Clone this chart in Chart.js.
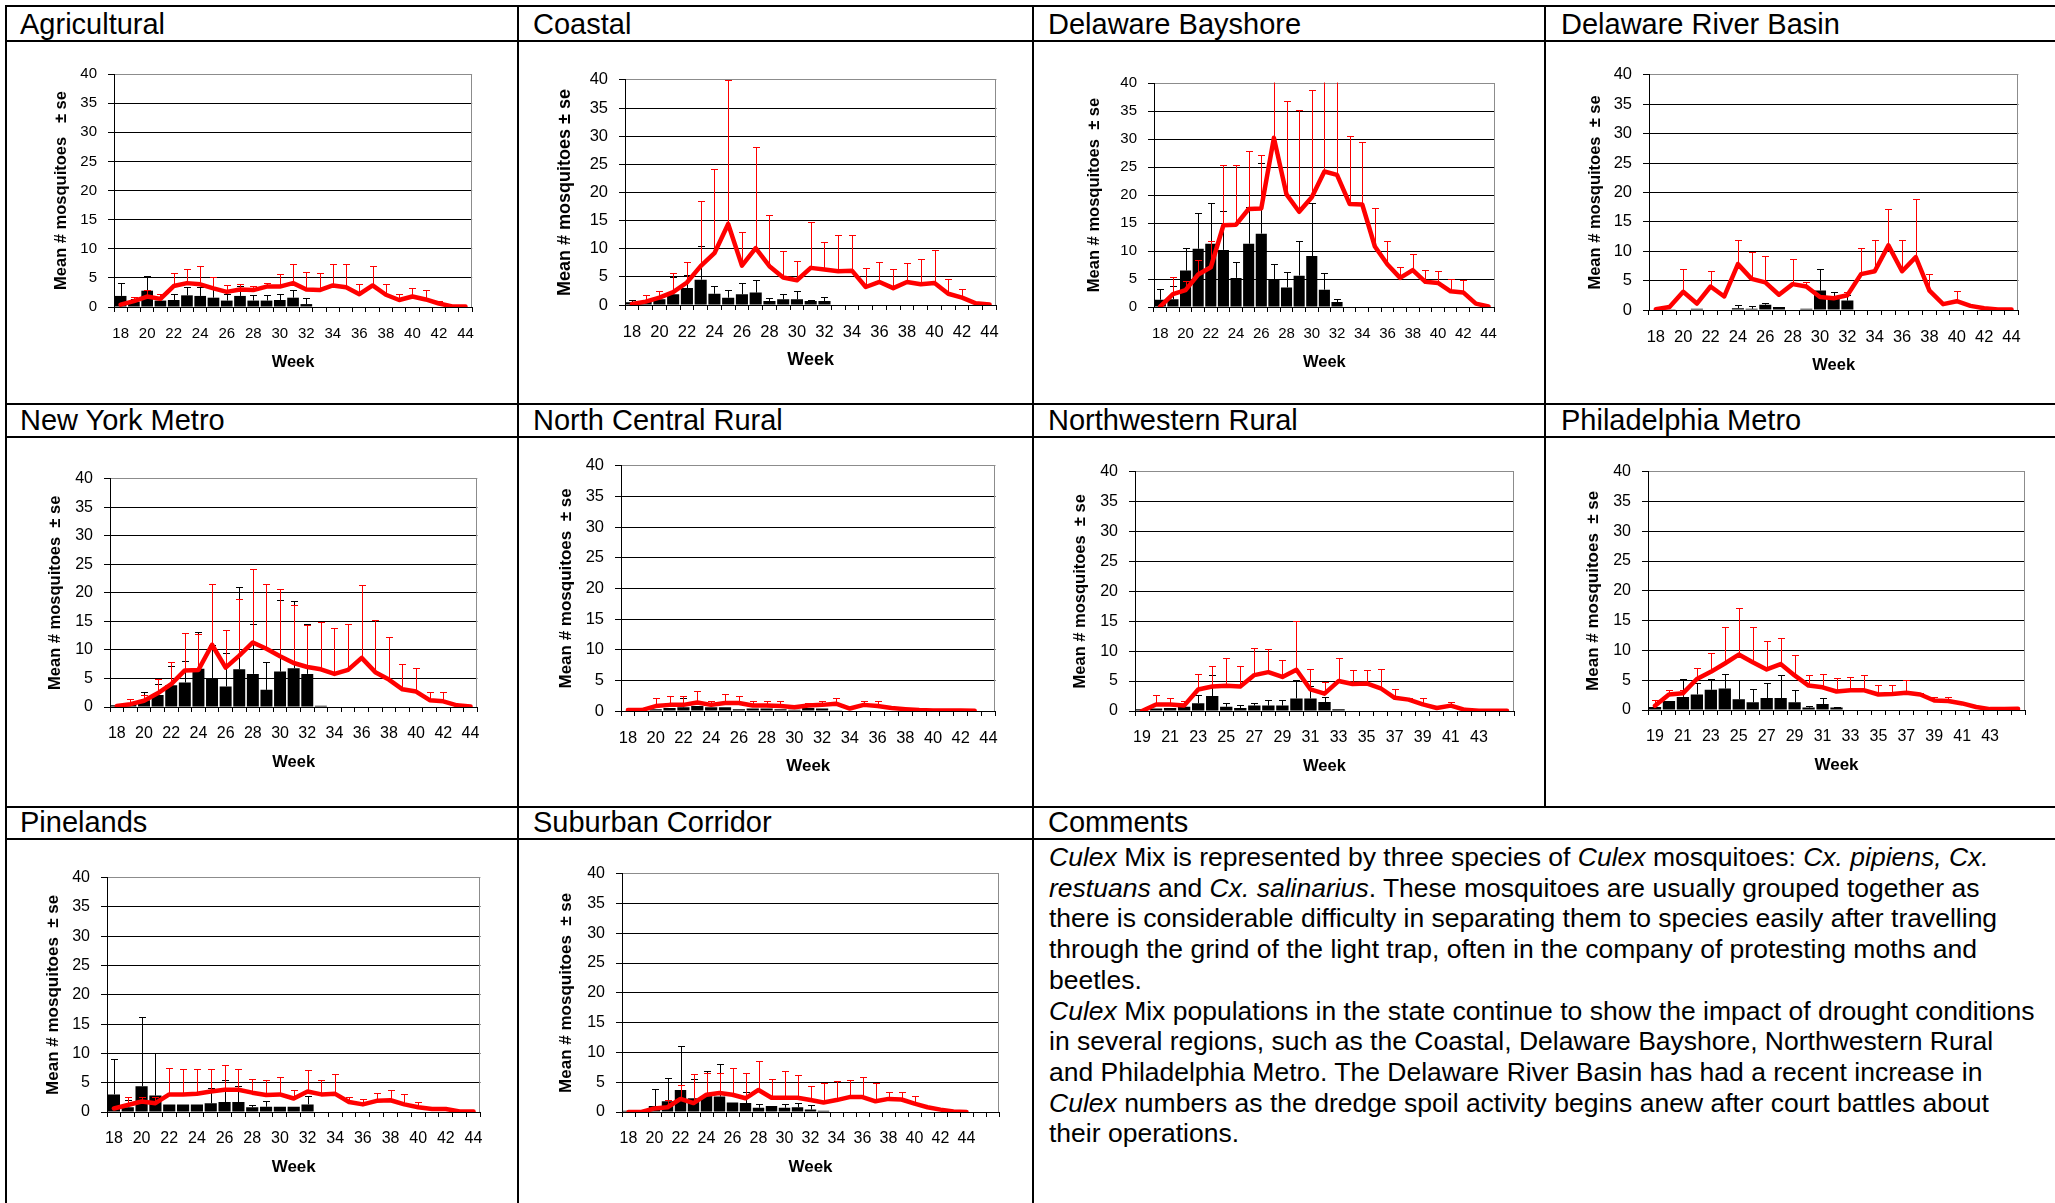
<!DOCTYPE html>
<html><head><meta charset="utf-8">
<script src="https://cdn.jsdelivr.net/npm/chart.js@4.4.1/dist/chart.umd.min.js"></script>
<style>
html,body{margin:0;padding:0;background:#fff;}
#page{position:relative;width:2055px;height:1203px;overflow:hidden;background:#fff;font-family:'Liberation Sans',Arial,sans-serif;color:#000;}
.h{position:absolute;height:2px;background:#000;}
.v{position:absolute;width:2px;background:#000;}
.cap{position:absolute;font-size:29px;line-height:29px;white-space:nowrap;}
.txt{position:absolute;left:1049px;top:842px;font-size:26.5px;line-height:30.7px;white-space:nowrap;}
canvas{position:absolute;}
</style></head>
<body><div id="page">
<div class="h" style="left:5px;top:5px;width:2050px"></div>
<div class="h" style="left:5px;top:40px;width:2050px"></div>
<div class="h" style="left:5px;top:403px;width:2050px"></div>
<div class="h" style="left:5px;top:436px;width:2050px"></div>
<div class="h" style="left:5px;top:806px;width:2050px"></div>
<div class="h" style="left:5px;top:838px;width:2050px"></div>
<div class="v" style="left:5px;top:5px;height:1198px"></div>
<div class="v" style="left:517px;top:5px;height:1198px"></div>
<div class="v" style="left:1032px;top:5px;height:1198px"></div>
<div class="v" style="left:1544px;top:5px;height:802px"></div>

<div class="cap" style="left:20px;top:10px">Agricultural</div>
<div class="cap" style="left:533px;top:10px">Coastal</div>
<div class="cap" style="left:1048px;top:10px">Delaware Bayshore</div>
<div class="cap" style="left:1561px;top:10px">Delaware River Basin</div>
<div class="cap" style="left:20px;top:406px">New York Metro</div>
<div class="cap" style="left:533px;top:406px">North Central Rural</div>
<div class="cap" style="left:1048px;top:406px">Northwestern Rural</div>
<div class="cap" style="left:1561px;top:406px">Philadelphia Metro</div>
<div class="cap" style="left:20px;top:808px">Pinelands</div>
<div class="cap" style="left:533px;top:808px">Suburban Corridor</div>
<div class="cap" style="left:1048px;top:808px">Comments</div>

<div class="txt">
<i>Culex</i> Mix is represented by three species of <i>Culex</i> mosquitoes: <i>Cx. pipiens, Cx.</i><br>
<i>restuans</i> and <i>Cx. salinarius</i>. These mosquitoes are usually grouped together as<br>
there is considerable difficulty in separating them to species easily after travelling<br>
through the grind of the light trap, often in the company of protesting moths and<br>
beetles.<br>
<i>Culex</i> Mix populations in the state continue to show the impact of drought conditions<br>
in several regions, such as the Coastal, Delaware Bayshore, Northwestern Rural<br>
and Philadelphia Metro. The Delaware River Basin has had a recent increase in<br>
<i>Culex</i> numbers as the dredge spoil activity begins anew after court battles about<br>
their operations.
</div>
</div>

<script>
// Week categories (tick labels)
const weeks18 = ['18','19','20','21','22','23','24','25','26','27','28','29','30','31','32','33','34','35','36','37','38','39','40','41','42','43','44'];
const weeks19 = ['19','20','21','22','23','24','25','26','27','28','29','30','31','32','33','34','35','36','37','38','39','40','41','42','43','44',''];
const weeks18wide = ['18','19','20','21','22','23','24','25','26','27','28','29','30','31','32','33','34','35','36','37','38','39','40','41','42','43','44','',''];

// Agricultural
const agriCur   = [1.9, 0.9, 2.8, 1.1, 1.2, 2.0, 1.9, 1.6, 1.1, 1.9, 1.1, 1.1, 1.2, 1.6, 0.5];
const agriCurSe = [2.2, 0.4, 2.6, 1.1, 1.0, 1.5, 1.5, 1.9, 1.2, 1.7, 0.9, 0.9, 1.0, 1.4, 1.1];
const agriAvg   = [0.4, 1.0, 1.8, 1.4, 3.6, 4.1, 3.9, 3.2, 2.6, 3.0, 2.9, 3.5, 3.5, 4.1, 3.0, 2.9, 3.7, 3.4, 2.2, 3.7, 2.1, 1.2, 1.8, 1.3, 0.6, 0.1, 0.1];
const agriAvgSe = [null, 0.8, 1.1, 0.8, 2.2, 2.5, 3.1, 2.0, 1.2, 1.0, 0.7, 0.7, 2.1, 3.3, 3.0, 2.9, 3.7, 4.0, 1.8, 3.3, 1.9, 1.1, 1.5, 1.6, 0.5];

// Coastal
const coastCur   = [0.5, 0.6, 1.0, 1.9, 3.0, 4.5, 2.0, 1.3, 1.9, 2.2, 0.7, 1.0, 1.0, 0.7, 0.7];
const coastCurSe = [0.4, 0.3, 0.5, 3.0, 2.3, 5.9, 1.3, 1.3, 2.0, 2.2, 0.6, 1.0, 1.4, 0.2, 0.7];
const coastAvg   = [0.2, 0.6, 1.3, 2.3, 4.0, 6.9, 9.2, 14.4, 7.0, 10.1, 6.9, 4.9, 4.4, 6.6, 6.3, 6.0, 6.1, 3.2, 4.1, 3.0, 4.1, 3.7, 3.9, 2.0, 1.3, 0.3, 0.1];
const coastAvgSe = [null, 1.2, 1.1, 3.3, 3.6, 11.6, 15.0, 25.5, 5.9, 18.0, 9.1, 4.7, 3.4, 8.2, 4.9, 6.4, 6.4, 3.4, 3.5, 3.4, 3.3, 4.4, 5.9, 2.6, 1.6];

// Delaware Bayshore
const bayCur   = [1.3, 1.4, 6.5, 10.4, 11.3, 10.2, 5.2, 11.3, 13.1, 5.0, 3.5, 5.6, 9.1, 3.1, 0.9];
const bayCurSe = [2.0, 2.3, 4.1, 6.3, 7.3, 6.9, 2.8, 6.6, 12.7, 2.6, 2.7, 6.1, 9.5, 2.9, 0.5];
const bayAvg   = [0.1, 2.3, 3.0, 5.8, 7.1, 14.6, 14.7, 17.5, 17.6, 30.2, 20.1, 17.0, 19.6, 24.2, 23.6, 18.4, 18.3, 10.8, 7.6, 5.2, 6.6, 4.5, 4.3, 2.8, 2.6, 0.6, 0.1];
const bayAvgSe = [null, 3.1, 1.6, 2.6, 4.6, 10.7, 10.6, 10.4, 9.6, 14.0, 16.7, 18.1, 19.2, 20.8, 19.4, 12.1, 11.2, 6.9, 4.1, 2.0, 2.8, 2.1, 2.1, 2.2, 2.3];

// Delaware River Basin
const drbCur   = [0, 0.05, 0.1, 0.2, 0.1, 0.1, 0.3, 0.2, 0.9, 0.5, 0.1, 0.2, 3.3, 2.3, 1.6];
const drbCurSe = [null, null, null, null, null, null, 0.5, 0.4, 0.3, null, null, null, 3.6, 0.8, 0.9];
const drbAvg   = [0.15, 0.5, 3.1, 1.1, 4.0, 2.3, 7.8, 5.3, 4.7, 2.6, 4.4, 4.0, 2.2, 2.0, 2.5, 6.1, 6.6, 11.0, 6.6, 9.0, 3.3, 1.0, 1.5, 0.7, 0.3, 0.1, 0.1];
const drbAvgSe = [null, null, 3.8, null, 2.6, null, 4.1, 4.6, 4.5, null, 4.3, 0.7, null, null, 0.5, 4.4, 5.3, 6.2, 5.3, 9.9, 2.9, null, 1.8];

// New York Metro
const nyCur   = [0.3, 0.6, 1.2, 2.1, 3.8, 4.3, 6.7, 5.0, 3.6, 6.6, 5.8, 3.0, 6.2, 6.8, 5.8, 0.2];
const nyCurSe = [null, null, 1.5, 1.9, 3.3, 3.8, 6.5, 5.8, 5.8, 14.4, 8.7, 4.9, 12.6, 11.8, 8.7, null];
const nyAvg   = [0.2, 0.5, 1.1, 2.4, 4.0, 6.4, 6.5, 10.9, 6.9, 9.0, 11.3, 10.2, 8.9, 7.7, 7.0, 6.6, 5.8, 6.5, 8.6, 6.1, 4.8, 3.1, 2.7, 1.2, 1.0, 0.3, 0.1];
const nyAvgSe = [null, 0.9, 1.0, 2.5, 3.9, 6.6, 6.2, 10.7, 6.5, 10.0, 12.8, 11.4, 11.7, 10.2, 7.4, 8.3, 8.0, 8.1, 12.8, 9.1, 7.5, 4.4, 4.2, 1.4, 1.7];

// North Central Rural
const ncCur   = [0, 0, 0.3, 0.5, 0.6, 0.8, 0.6, 0.6, 0.3, 0.4, 0.4, 0.3, 0.2, 0.5, 0.4, 0.05];
const ncCurSe = [null, null, null, null, 1.5];
const ncAvg   = [0.15, 0.15, 0.8, 1.0, 1.0, 1.4, 1.0, 1.3, 1.3, 0.9, 0.9, 0.8, 0.6, 0.9, 1.0, 1.2, 0.4, 1.0, 0.8, 0.5, 0.3, 0.15, 0.1, 0.1, 0.1, 0.05, null];
const ncAvgSe = [null, null, 1.4, 1.5, 1.5, 1.9, 0.7, 1.4, 1.2, 0.8, 0.8, 0.8, null, 0.4, 0.7, 1.0, null, 0.7, 0.8];

// Northwestern Rural (weeks 19 onward)
const nwCur   = [0.3, 0.4, 0.5, 0.7, 1.3, 2.5, 0.7, 0.5, 0.9, 0.9, 0.9, 2.1, 2.1, 1.5, 0.3];
const nwCurSe = [null, null, null, null, 1.4, 3.5, 0.7, 0.5, 0.5, 0.9, 0.9, 3.1, 2.0, 0.8];
const nwAvg   = [0, 1.1, 1.1, 0.9, 3.6, 4.1, 4.2, 4.1, 6.0, 6.5, 5.7, 6.9, 3.6, 2.9, 5.0, 4.5, 4.6, 3.8, 2.2, 1.9, 1.1, 0.5, 0.9, 0.2, 0.05, 0.05, 0.05];
const nwAvgSe = [null, 1.6, 1.1, 0.8, 2.6, 3.4, 4.6, 3.4, 4.6, 3.9, 2.8, 8.2, 3.5, 1.9, 3.8, 2.3, 2.2, 3.3, 1.5, 0.3, 1.0, null, 0.6];

// Philadelphia Metro (weeks 19 onward)
const phCur   = [0.5, 1.5, 2.2, 2.6, 3.4, 3.6, 1.8, 1.3, 2.0, 2.0, 1.3, 0.4, 1.0, 0.4];
const phCurSe = [null, null, 3.0, 1.9, 1.8, 2.4, 3.3, 2.2, 2.5, 3.8, 2.0, 0.3, 1.0, 0.1];
const phAvg   = [0.7, 2.6, 2.8, 5.2, 6.4, 7.8, 9.3, 8.0, 6.8, 7.7, 5.8, 4.1, 3.8, 3.1, 3.3, 3.3, 2.6, 2.7, 2.9, 2.6, 1.6, 1.5, 1.1, 0.5, 0.15, 0.15, 0.2];
const phAvgSe = [1.0, 0.7, 0.5, 1.9, 3.2, 6.1, 7.8, 6.0, 4.7, 4.4, 3.5, 1.7, 2.3, 2.3, 2.3, 2.5, 1.6, 1.5, 2.2, 0.3, 0.6, 0.7, 0.3];

// Pinelands
const pineCur   = [3.0, 0.8, 4.4, 2.8, 1.3, 1.3, 1.3, 1.5, 1.7, 1.7, 0.8, 0.9, 0.9, 0.9, 1.3];
const pineCurSe = [6.1, 1.2, 11.8, 7.3, null, null, null, 2.6, 3.7, 2.7, 0.4, 1.0, null, null, 1.5];
const pineAvg   = [0.6, 1.2, 1.8, 1.5, 3.0, 3.0, 3.1, 3.5, 3.8, 3.8, 3.3, 2.9, 3.0, 2.3, 3.5, 3.0, 3.1, 1.7, 1.3, 1.9, 2.0, 1.3, 0.8, 0.5, 0.5, 0.1, 0.1];
const pineAvgSe = [null, 1.4, 0.8, 1.1, 4.5, 4.3, 4.2, 3.8, 4.2, 3.5, 2.4, 2.6, 2.9, 1.5, 3.6, 2.5, 3.3, 0.9, 0.9, 1.4, 1.8, 1.7, 0.9];

// Suburban Corridor
const subCur   = [0.2, 0, 1.0, 1.8, 3.7, 2.3, 2.7, 2.6, 1.6, 1.5, 0.7, 1.0, 0.7, 0.8, 0.4, 0.2];
const subCurSe = [null, null, 2.8, 3.9, 7.3, 3.3, 4.2, 5.5, null, 1.9, 0.6, null, 0.6, 0.7, 0.7];
const subAvg   = [0, 0, 0.6, 0.8, 2.2, 1.5, 2.9, 3.2, 2.9, 2.3, 3.7, 2.4, 2.4, 2.4, 2.0, 1.6, 2.0, 2.5, 2.5, 1.8, 2.2, 2.1, 1.4, 0.8, 0.4, 0.1, 0];
const subAvgSe = [null, null, null, 1.2, 2.3, 4.9, 3.6, 3.3, 4.4, 4.2, 4.8, 3.2, 4.5, 3.8, 2.4, 3.2, 3.2, 2.8, 3.4, 3.0, 1.1, 1.2, 1.3];

const Y_TITLE = 'Mean # mosquitoes  \u00b1 se';

// Panel placement: plot rectangle [left, top, right, bottom] in page pixels
const panels = [
  { rect: [114, 68, 477, 307],  labels: weeks18, cur: agriCur,  curSe: agriCurSe,  avg: agriAvg,  avgSe: agriAvgSe,  tick: 15,   title: 16.5, yTitle: 'Mean # mosquitoes   \u00b1 se', yGap: 53 },
  { rect: [625, 73, 1001, 305], labels: weeks18, cur: coastCur, curSe: coastCurSe, avg: coastAvg, avgSe: coastAvgSe, tick: 16.5, title: 18,   yTitle: 'Mean # mosquitoes \u00b1 se', yGap: 60 },
  { rect: [1154, 77, 1500, 307], labels: weeks18, cur: bayCur,  curSe: bayCurSe,   avg: bayAvg,   avgSe: bayAvgSe,   tick: 15,   title: 16.5, yTitle: Y_TITLE, yGap: 60 },
  { rect: [1649, 68, 2023, 310], labels: weeks18, cur: drbCur,  curSe: drbCurSe,   avg: drbAvg,   avgSe: drbAvgSe,   tick: 16.5, title: 16.5, yTitle: Y_TITLE, yGap: 54 },
  { rect: [110, 472, 482, 707], labels: weeks18, cur: nyCur,    curSe: nyCurSe,    avg: nyAvg,    avgSe: nyAvgSe,    tick: 16,   title: 16.5, yTitle: Y_TITLE, yGap: 55 },
  { rect: [621, 459, 1000, 711], labels: weeks18, cur: ncCur,   curSe: ncCurSe,    avg: ncAvg,    avgSe: ncAvgSe,    tick: 16.5, title: 17,   yTitle: Y_TITLE, yGap: 55 },
  { rect: [1135, 465, 1514, 711], labels: weeks19, cur: nwCur,  curSe: nwCurSe,    avg: nwAvg,    avgSe: nwAvgSe,    tick: 16,   title: 16.5, yTitle: Y_TITLE, yGap: 55 },
  { rect: [1648, 465, 2025, 710], labels: weeks19, cur: phCur,  curSe: phCurSe,    avg: phAvg,    avgSe: phAvgSe,    tick: 16,   title: 17,   yTitle: Y_TITLE, yGap: 55 },
  { rect: [107, 871, 485, 1112], labels: weeks18, cur: pineCur, curSe: pineCurSe,  avg: pineAvg,  avgSe: pineAvgSe,  tick: 16,   title: 17,   yTitle: Y_TITLE, yGap: 54 },
  { rect: [622, 867, 999, 1112], labels: weeks18wide, cur: subCur, curSe: subCurSe, avg: subAvg,  avgSe: subAvgSe,   tick: 16,   title: 17,   yTitle: Y_TITLE, yGap: 56 }
];

const FONT = "'Liberation Sans', Arial, Helvetica, sans-serif";
Chart.defaults.font.family = FONT;
Chart.defaults.color = '#000';

// Upper-only error bars (mean + se) with a short cap, clipped to the plot area
function drawErrorBars(chart, index) {
  const ds = chart.data.datasets[index];
  if (!ds.errors) return;
  const meta = chart.getDatasetMeta(index);
  const y = chart.scales.y;
  const area = chart.chartArea;
  const ctx = chart.ctx;
  ctx.save();
  ctx.beginPath();
  ctx.rect(area.left, area.top - 0.5, area.right - area.left, area.bottom - area.top + 1);
  ctx.clip();
  ctx.strokeStyle = ds.errorColor;
  ctx.lineWidth = 1;
  meta.data.forEach((el, k) => {
    const v = ds.data[k], e = ds.errors[k];
    if (v == null || e == null) return;
    const x = Math.round(el.x) + 0.5;
    const yb = y.getPixelForValue(v);
    const yt = Math.round(y.getPixelForValue(v + e)) + 0.5;
    ctx.beginPath();
    ctx.moveTo(x, yb);
    ctx.lineTo(x, yt);
    ctx.moveTo(x - 3.5, yt);
    ctx.lineTo(x + 3.5, yt);
    ctx.stroke();
  });
  ctx.restore();
}

const errorBarPlugin = {
  id: 'errorBars',
  beforeDatasetDraw(chart, args) { if (args.meta.type === 'line') drawErrorBars(chart, args.index); },
  afterDatasetDraw(chart, args) { if (args.meta.type === 'bar') drawErrorBars(chart, args.index); }
};

// Grey right-hand edge of the plot area
const plotFramePlugin = {
  id: 'plotFrame',
  beforeDatasetsDraw(chart) {
    const a = chart.chartArea, ctx = chart.ctx;
    ctx.save();
    ctx.strokeStyle = '#8c8c8c';
    ctx.lineWidth = 1;
    ctx.beginPath();
    const x = Math.round(a.right) - 0.5;
    ctx.moveTo(x, a.top);
    ctx.lineTo(x, a.bottom);
    ctx.stroke();
    ctx.restore();
  }
};

const LW = 110, PT = 14, PR = 10, BH = 80;
const page = document.getElementById('page');

panels.forEach(p => {
  const [x0, y0, x1, y1] = p.rect;
  const w = x1 - x0 + LW + PR, h = y1 - y0 + PT + BH;
  const cv = document.createElement('canvas');
  cv.width = w; cv.height = h;
  cv.style.left = (x0 - LW) + 'px';
  cv.style.top = (y0 - PT) + 'px';
  cv.style.width = w + 'px';
  cv.style.height = h + 'px';
  page.appendChild(cv);

  const tLH = p.title * 1.2;
  const tickLH = p.tick * 1.2;
  new Chart(cv, {
    type: 'bar',
    data: {
      labels: p.labels,
      datasets: [
        { type: 'line', data: p.avg, errors: p.avgSe, errorColor: '#ff0000',
          borderColor: '#ff0000', backgroundColor: '#ff0000', borderWidth: 4.5,
          pointRadius: 0, tension: 0, borderJoinStyle: 'round', borderCapStyle: 'round', spanGaps: false },
        { type: 'bar', data: p.cur, errors: p.curSe, errorColor: '#000000',
          backgroundColor: '#000000', borderWidth: 0, barPercentage: 0.88, categoryPercentage: 1 }
      ]
    },
    options: {
      responsive: false, animation: false, devicePixelRatio: 1,
      layout: { autoPadding: false, padding: { left: 0, top: PT, right: PR, bottom: 0 } },
      plugins: { legend: { display: false }, tooltip: { enabled: false } },
      scales: {
        x: {
          afterFit: s => { s.height = BH; },
          offset: true,
          grid: { display: true, drawOnChartArea: false, drawTicks: true, tickLength: 5, color: '#000', offset: true },
          border: { display: true, color: '#000', width: 1 },
          ticks: {
            autoSkip: false, maxRotation: 0, minRotation: 0, color: '#000',
            padding: 27 - 5 - tickLH / 2,
            font: { size: p.tick },
            callback: function (value, index) { return index % 2 === 0 ? this.getLabelForValue(value) : ''; }
          },
          title: { display: true, text: 'Week', color: '#000', font: { size: p.title, weight: 'bold' },
                   padding: { top: 0, bottom: BH - 55 - tLH / 2 } }
        },
        y: {
          min: 0, max: 40,
          afterFit: s => { s.width = LW; },
          grid: { color: c => (c.tick && c.tick.value === 40) ? '#8c8c8c' : '#000', tickColor: '#000', tickLength: 6, lineWidth: 1 },
          border: { display: true, color: '#000', width: 1 },
          ticks: { stepSize: 5, padding: 11, color: '#000', font: { size: p.tick } },
          title: { display: true, text: p.yTitle, color: '#000', font: { size: p.title, weight: 'bold' },
                   padding: { top: LW - p.yGap - tLH / 2, bottom: 0 } }
        }
      }
    },
    plugins: [errorBarPlugin, plotFramePlugin]
  });
});
</script>
</body></html>
